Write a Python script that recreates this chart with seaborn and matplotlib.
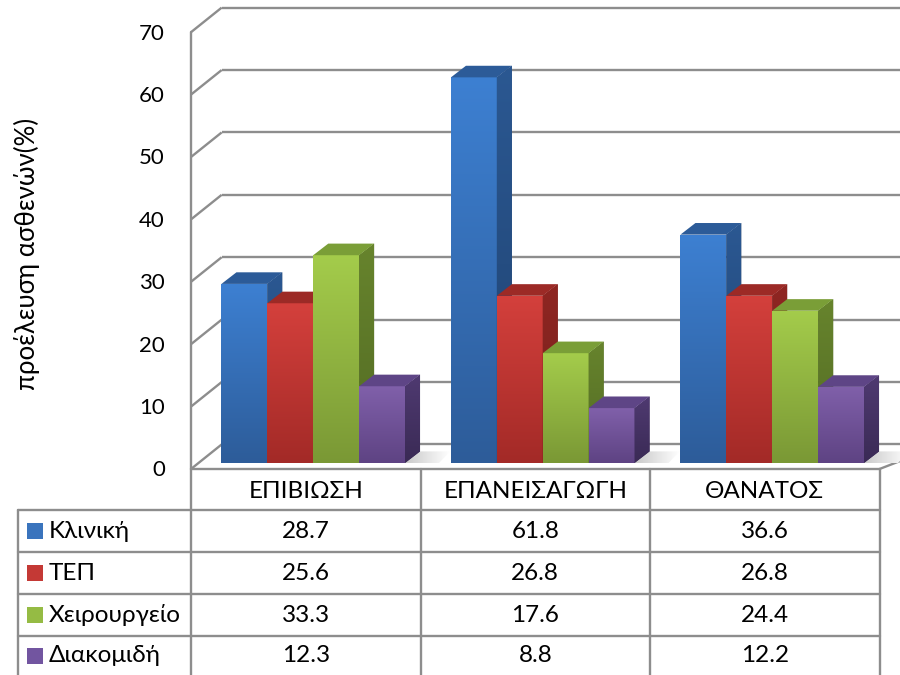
import numpy as np
import pandas as pd
import matplotlib
matplotlib.use("Agg")
import matplotlib.pyplot as plt
import seaborn as sns
from matplotlib.patches import Polygon, Rectangle
from matplotlib.colors import LinearSegmentedColormap

# ---- data -------------------------------------------------------------
categories = ["ΕΠΙΒΙΩΣΗ", "ΕΠΑΝΕΙΣΑΓΩΓΗ", "ΘΑΝΑΤΟΣ"]
series_names = ["Κλινική", "ΤΕΠ", "Χειρουργείο", "Διακομιδή"]
klinikh = [28.7, 61.8, 36.6]
tep = [25.6, 26.8, 26.8]
xeirourgeio = [33.3, 17.6, 24.4]
diakomidh = [12.3, 8.8, 12.2]
y_ticks = [0, 10, 20, 30, 40, 50, 60, 70]
y_label = "προέλευση ασθενών(%)"

series_values = [klinikh, tep, xeirourgeio, diakomidh]
df = pd.DataFrame(
    [(c, s, v) for s, vals in zip(series_names, series_values)
     for c, v in zip(categories, vals)],
    columns=["category", "source", "value"],
)

# ---- styling ------------------------------------------------------------
# (front top, front bottom, side top, side bottom, top face, legend swatch)
shades = {
    "Κλινική": ("#3d80d2", "#2d5c99", "#2b5892", "#1f4270", "#2c5b98", "#3a74bd"),
    "ΤΕΠ": ("#d4403c", "#a32a27", "#8f2622", "#74201c", "#9c2a26", "#c43935"),
    "Χειρουργείο": ("#a4cc4b", "#7a9835", "#67842d", "#526a23", "#7a9e37", "#95bb44"),
    "Διακομιδή": ("#8060aa", "#5e4383", "#4f3a71", "#3a2a55", "#5e4586", "#7255a0"),
}
palette = {k: v[5] for k, v in shades.items()}
GRID = "#8d8d8d"
LW = 1.7
TABLE_FS = 17.5

sns.set_theme(style="white")
plt.rcParams["font.family"] = ["Lato", "DejaVu Sans"]

W, H = 900, 675
fig = plt.figure(figsize=(W / 100, H / 100), dpi=100)
ax = fig.add_axes([0, 0, 1, 1])

sns.barplot(data=df, x="category", y="value", hue="source",
            order=categories, hue_order=series_names, palette=palette,
            width=0.8, saturation=1, errorbar=None, legend=False,
            linewidth=0, ax=ax)

# pixel geometry of the 3-D box
X0_PX, CAT_PX = 191.0, 229.5      # front-left wall and category width
Y0_PX, UNIT_PX = 469.0, 6.24      # front floor line and px per unit
xlim = (-0.5 - X0_PX / CAT_PX, -0.5 + (W - X0_PX) / CAT_PX)
ylim = (-(H - Y0_PX) / UNIT_PX, Y0_PX / UNIT_PX)


def dx(px):
    return px / CAT_PX


def dy(px):
    return px / UNIT_PX


def xpx(px):
    return xlim[0] + dx(px)


def ypx(py):
    return ylim[1] - dy(py)


depth = (dx(30.7), dy(24.6))          # full floor depth
bar_off = (dx(7.5), dy(6.0))          # bar front face offset into the box
bar_depth = (dx(15.0), dy(11.6))      # depth of each bar


def gradient(patch, c_top, c_bot, y0, y1, x0, x1, z, horizontal=False):
    cmap = LinearSegmentedColormap.from_list("g", [c_bot, c_top])
    arr = np.linspace(0, 1, 256).reshape(-1, 1)
    if horizontal:
        arr = arr.reshape(1, -1)
    im = ax.imshow(arr, extent=(x0, x1, y0, y1), origin="lower",
                   aspect="auto", cmap=cmap, zorder=z, interpolation="bilinear")
    im.set_clip_path(patch)


# ---- back wall, side wall and floor ------------------------------------
for v in y_ticks:
    fx0, fy0 = -0.5, v
    bx0, by0 = -0.5 + depth[0], v + depth[1]
    ax.plot([fx0, bx0], [fy0, by0], color=GRID, lw=LW, zorder=1,
            solid_capstyle="butt")
    ax.plot([bx0, xlim[1] + 0.1], [by0, by0], color=GRID, lw=LW, zorder=1,
            solid_capstyle="butt")
ax.plot([-0.5, -0.5], [0, y_ticks[-1]], color=GRID, lw=LW, zorder=1)
ax.plot([-0.5, 2.5], [0, 0], color=GRID, lw=LW, zorder=1)
ax.plot([2.5, 2.5 + dx(22)], [0, dy(8.5)], color=GRID, lw=LW, zorder=1)

# ---- 3-D bars -----------------------------------------------------------
bars = []
for k, cont in enumerate(ax.containers):
    for j, bar in enumerate(cont):
        bars.append((bar, series_names[k], j))
bars.sort(key=lambda t: t[0].get_x())

group_right = {}
for i, (bar, name, j) in enumerate(bars):
    ft, fb, st, sb, tp, _ = shades[name]
    z = 3 + i * 0.5
    x = bar.get_x() + bar_off[0]
    w = bar.get_width()
    h = bar.get_height()
    y0 = bar_off[1]
    bar.set_x(x)
    bar.set_y(y0)
    bar.set_zorder(z)
    bar.set_facecolor(fb)
    gradient(bar, ft, fb, y0, y0 + h, x, x + w, z + 0.05)

    side = Polygon([(x + w, y0), (x + w + bar_depth[0], y0 + bar_depth[1]),
                    (x + w + bar_depth[0], y0 + bar_depth[1] + h),
                    (x + w, y0 + h)], closed=True, facecolor=sb,
                   edgecolor="none", zorder=z + 0.1)
    ax.add_patch(side)
    gradient(side, st, sb, y0, y0 + h + bar_depth[1], x + w,
             x + w + bar_depth[0], z + 0.15)

    top = Polygon([(x, y0 + h), (x + bar_depth[0], y0 + h + bar_depth[1]),
                   (x + w + bar_depth[0], y0 + h + bar_depth[1]),
                   (x + w, y0 + h)], closed=True, facecolor=tp,
                  edgecolor="none", zorder=z + 0.2)
    ax.add_patch(top)
    group_right[j] = (x + w, y0)

# soft floor shadows to the right of each group
for j, (xr, y0) in group_right.items():
    sh = Polygon([(xr, y0), (xr + bar_depth[0], y0 + bar_depth[1]),
                  (xr + bar_depth[0] + dx(30), y0 + bar_depth[1]),
                  (xr + dx(34), y0)], closed=True, facecolor="none",
                 edgecolor="none", zorder=2)
    ax.add_patch(sh)
    gradient(sh, "#ffffff", "#c9c9c9", y0, y0 + bar_depth[1], xr,
             xr + bar_depth[0] + dx(30), 2, horizontal=True)

# ---- value axis labels ----------------------------------------------------
for v in y_ticks:
    ax.text(xpx(165), v + dy(-1.5), f"{v}", ha="right", va="center",
            fontsize=16, color="#000000")
ax.text(xpx(27), ypx(254), y_label, rotation=90, ha="center", va="center",
        fontsize=18.5, color="#000000")

# ---- data table -----------------------------------------------------------
row_lines = [510, 552, 594, 636]
for yl in row_lines:
    ax.plot([xpx(18), 2.5], [ypx(yl), ypx(yl)], color=GRID, lw=LW, zorder=1)
bottom = ypx(H + 5)
ax.plot([xpx(18), xpx(18)], [ypx(510), bottom], color=GRID, lw=LW, zorder=1)
for xb in [-0.5, 0.5, 1.5, 2.5]:
    ax.plot([xb, xb], [0, bottom], color=GRID, lw=LW, zorder=1)

for j, c in enumerate(categories):
    ax.text(j, ypx(491), c, ha="center", va="center", fontsize=TABLE_FS,
            color="#000000")

row_centers = [531, 573, 615, 656]
for k, (name, vals) in enumerate(zip(series_names, series_values)):
    yc = ypx(row_centers[k])
    ax.add_patch(Rectangle((xpx(27), yc - dy(8)), dx(16), dy(16),
                           facecolor=palette[name], edgecolor="none",
                           zorder=3))
    ax.text(xpx(49), yc, name, ha="left", va="center", fontsize=TABLE_FS,
            color="#000000")
    for j, v in enumerate(vals):
        ax.text(j, yc, f"{v:.1f}", ha="center", va="center",
                fontsize=TABLE_FS, color="#000000")

ax.set_xlim(*xlim)
ax.set_ylim(*ylim)
ax.set_axis_off()
fig.savefig("out.png", dpi=100, facecolor="white")
